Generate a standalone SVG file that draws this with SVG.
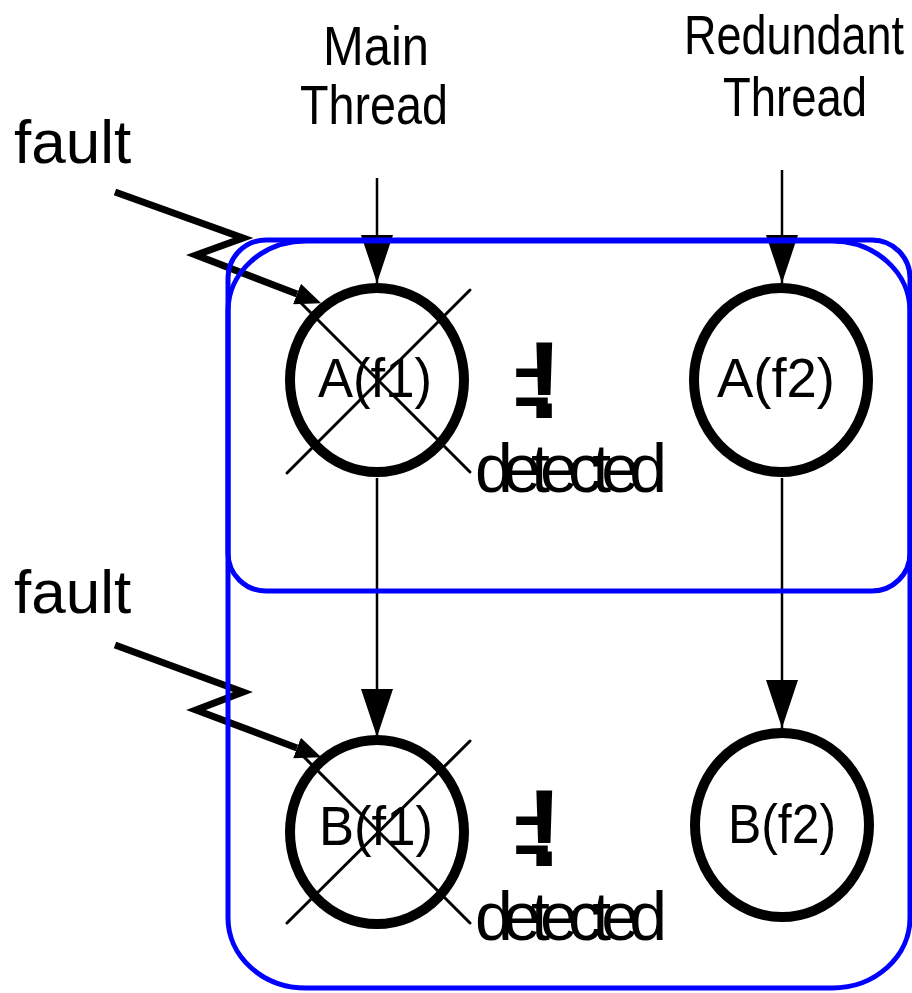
<svg xmlns="http://www.w3.org/2000/svg" width="912" height="993" viewBox="0 0 912 993">
<style>
  text { font-family: "Liberation Sans", Arial, sans-serif; fill: #000; }
  .title { font-size: 56px; text-anchor: middle; }
  .fault-lbl { font-size: 62px; }
  .node-shape { fill: none; stroke: #000; stroke-width: 10; }
  .node-text { font-size: 55px; text-anchor: middle; }
  .cross { stroke: #000; stroke-width: 3; stroke-linecap: round; }
  .conn { stroke: #000; stroke-width: 2.5; fill: none; }
  .fault { stroke: #000; stroke-width: 7; fill: none; stroke-linejoin: miter; }
  .scope { fill: none; stroke: #0000FF; stroke-width: 5; }
  .det { font-size: 68px; }
  .neq { font-size: 116px; }
  .bang { font-size: 110px; font-weight: bold; }
</style>
<defs>
  <marker id="arr" markerUnits="userSpaceOnUse" viewBox="0 0 48 32" markerWidth="48" markerHeight="32" refX="48" refY="16" orient="auto">
    <path d="M0,0 L48,16 L0,32 z" fill="#000"/>
  </marker>
  <marker id="farr" markerUnits="userSpaceOnUse" viewBox="0 0 26 22" markerWidth="26" markerHeight="22" refX="0" refY="11" orient="auto">
    <path d="M0,0 L26,11 L0,22 z" fill="#000"/>
  </marker>
</defs>

<g id="labels">
  <text class="title" x="376" y="65" textLength="106" lengthAdjust="spacingAndGlyphs">Main</text>
  <text class="title" x="374" y="124" textLength="148" lengthAdjust="spacingAndGlyphs">Thread</text>
  <text class="title" x="794" y="54" textLength="220" lengthAdjust="spacingAndGlyphs">Redundant</text>
  <text class="title" x="795" y="116" textLength="144" lengthAdjust="spacingAndGlyphs">Thread</text>
  <text class="fault-lbl" x="14" y="163">fault</text>
  <text class="fault-lbl" x="14" y="613">fault</text>
</g>

<g id="node-Af1">
  <ellipse class="node-shape" cx="377" cy="380" rx="87" ry="92"/>
  <text class="node-text" x="375" y="397" textLength="114" lengthAdjust="spacingAndGlyphs">A(f1)</text>
  <line class="cross" x1="298" y1="300" x2="470" y2="472"/>
  <line class="cross" x1="287" y1="473" x2="470" y2="290"/>
</g>
<g id="node-Af2">
  <ellipse class="node-shape" cx="781" cy="380" rx="87" ry="92"/>
  <text class="node-text" x="776" y="397" textLength="118" lengthAdjust="spacingAndGlyphs">A(f2)</text>
</g>
<g id="node-Bf1">
  <ellipse class="node-shape" cx="377" cy="832" rx="87" ry="92"/>
  <text class="node-text" x="376" y="845" textLength="114" lengthAdjust="spacingAndGlyphs">B(f1)</text>
  <line class="cross" x1="298" y1="751" x2="470" y2="923"/>
  <line class="cross" x1="287" y1="923" x2="470" y2="741"/>
</g>
<g id="node-Bf2">
  <ellipse class="node-shape" cx="782" cy="825" rx="87" ry="92"/>
  <text class="node-text" x="782" y="843" textLength="108" lengthAdjust="spacingAndGlyphs">B(f2)</text>
</g>

<g id="detect-A">
  <text class="neq" x="513" y="426"><tspan textLength="38" lengthAdjust="spacingAndGlyphs">=</tspan><tspan class="bang" x="526" y="418">!</tspan></text>
  <text class="det" x="475" y="492" textLength="192" lengthAdjust="spacing">detected</text>
</g>
<g id="detect-B">
  <text class="neq" x="513" y="874"><tspan textLength="38" lengthAdjust="spacingAndGlyphs">=</tspan><tspan class="bang" x="526" y="866">!</tspan></text>
  <text class="det" x="475" y="940" textLength="192" lengthAdjust="spacing">detected</text>
</g>

<g id="connectors">
  <line class="conn" x1="377" y1="178" x2="377" y2="283" marker-end="url(#arr)"/>
  <line class="conn" x1="782" y1="170" x2="782" y2="283" marker-end="url(#arr)"/>
  <line class="conn" x1="377" y1="478" x2="377" y2="737" marker-end="url(#arr)"/>
  <line class="conn" x1="782" y1="478" x2="782" y2="728" marker-end="url(#arr)"/>
  <path class="fault" d="M115,192 L243,238 L196,255 L297,294" marker-end="url(#farr)"/>
  <path class="fault" d="M115,645 L243,692 L196,710 L297,748" marker-end="url(#farr)"/>
</g>

<g id="scopes">
  <rect class="scope" x="228" y="240" width="682" height="351" rx="38" ry="38"/>
  <rect class="scope" x="228" y="241" width="682" height="747" rx="78" ry="70"/>
</g>
</svg>
